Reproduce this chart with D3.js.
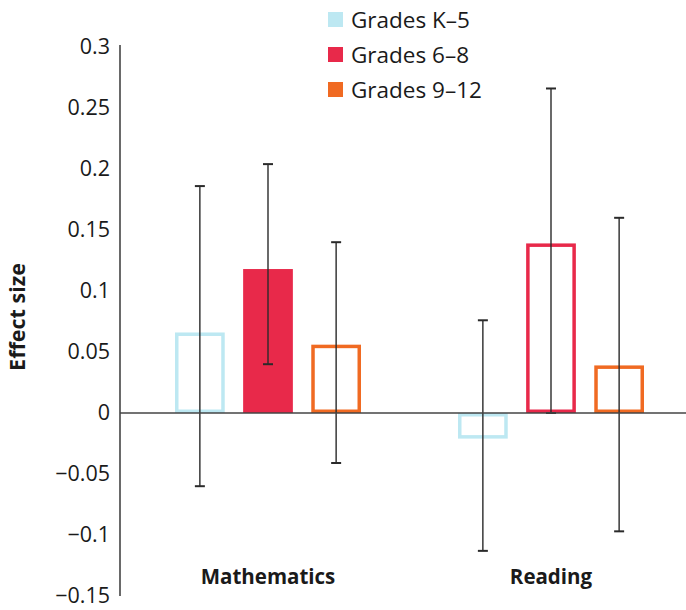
<!DOCTYPE html>
<html>
<head>
<meta charset="utf-8">
<script src="https://cdn.jsdelivr.net/npm/d3@7"></script>
<style>
  html, body { margin: 0; padding: 0; background: #fff; }
  svg { display: block; font-family: "Open Sans", "Noto Sans", sans-serif; }
</style>
</head>
<body>
<svg id="chart" width="686" height="610"></svg>
<script>
// Effect sizes by subject and grade band, with confidence intervals
const subjects = ["Mathematics", "Reading"];
const grades = ["Grades K–5", "Grades 6–8", "Grades 9–12"];
const gradeColors = ["#bde8f2", "#e8294a", "#f06a22"];

const mathEffect = [0.066, 0.118, 0.056];
const mathLow = [-0.060, 0.040, -0.041];
const mathHigh = [0.186, 0.204, 0.140];
const mathFilled = [false, true, false];

const readingEffect = [-0.021, 0.139, 0.039];
const readingLow = [-0.113, 0.000, -0.097];
const readingHigh = [0.076, 0.266, 0.160];
const readingFilled = [false, false, false];

const yTicks = [0.3, 0.25, 0.2, 0.15, 0.1, 0.05, 0, -0.05, -0.1, -0.15];

const seriesBySubject = {
  "Mathematics": { effect: mathEffect, low: mathLow, high: mathHigh, filled: mathFilled },
  "Reading": { effect: readingEffect, low: readingLow, high: readingHigh, filled: readingFilled }
};

const rows = [];
subjects.forEach(s => {
  const d = seriesBySubject[s];
  grades.forEach((g, i) => {
    rows.push({ subject: s, grade: g, i, value: d.effect[i], low: d.low[i], high: d.high[i], filled: d.filled[i] });
  });
});

const svg = d3.select("#chart");
const axisX = 120;

const y = d3.scaleLinear().domain([-0.15, 0.3]).range([596, 47]);
const x0 = d3.scaleBand().domain(subjects).range([126.5, 692.5]).padding(0);
const innerWidth = 186;
const x1 = d3.scaleBand().domain(grades).range([0, innerWidth]).paddingInner(0.27).paddingOuter(0);
const groupOffset = (x0.bandwidth() - innerWidth) / 2;
const color = d3.scaleOrdinal().domain(grades).range(gradeColors);

const fmt = v => v === 0 ? "0" : (v < 0 ? "\u2212" : "") + String(Math.abs(v));

// Y axis
const yAxis = d3.axisLeft(y).tickValues(yTicks).tickSize(0).tickPadding(10).tickFormat(fmt);
const gy = svg.append("g").attr("transform", `translate(${axisX},0)`).call(yAxis);
gy.select(".domain").attr("stroke", "#444").attr("stroke-width", 1.6).attr("d", `M0,${y(0.3) - 2}V${y(-0.15)}`);
gy.selectAll("text").attr("font-size", 21.5).attr("fill", "#1a1a1a").attr("font-family", "\"Open Sans\", sans-serif");

// Axis title
svg.append("text")
  .attr("transform", `translate(25,317) rotate(-90)`)
  .attr("text-anchor", "middle")
  .attr("font-size", 21.5)
  .attr("font-weight", "bold")
  .attr("fill", "#1a1a1a")
  .text("Effect size");

// Bars
const groups = svg.append("g").selectAll("g")
  .data(subjects).join("g")
  .attr("transform", s => `translate(${x0(s) + groupOffset},0)`);

const sw = 3.5;
groups.selectAll("rect")
  .data(s => rows.filter(r => r.subject === s))
  .join("rect")
  .attr("x", d => x1(d.grade) + (d.filled ? 0 : sw / 2))
  .attr("width", d => x1.bandwidth() - (d.filled ? 0 : sw))
  .attr("y", d => Math.min(y(d.value), y(0)) + (d.filled ? 0 : sw / 2))
  .attr("height", d => Math.abs(y(d.value) - y(0)) - (d.filled ? 0 : sw))
  .attr("fill", d => d.filled ? color(d.grade) : "none")
  .attr("stroke", d => d.filled ? "none" : color(d.grade))
  .attr("stroke-width", sw);

// Zero line
svg.append("line")
  .attr("x1", axisX).attr("x2", 686)
  .attr("y1", y(0)).attr("y2", y(0))
  .attr("stroke", "#444").attr("stroke-width", 1.6);

// Error bars
const cap = 5;
const eb = groups.selectAll("g.err")
  .data(s => rows.filter(r => r.subject === s))
  .join("g").attr("class", "err")
  .attr("stroke", "#2a2a2a").attr("stroke-width", 1.4);
eb.append("line")
  .attr("x1", d => x1(d.grade) + x1.bandwidth() / 2)
  .attr("x2", d => x1(d.grade) + x1.bandwidth() / 2)
  .attr("y1", d => y(d.low)).attr("y2", d => y(d.high));
eb.append("line")
  .attr("x1", d => x1(d.grade) + x1.bandwidth() / 2 - cap)
  .attr("x2", d => x1(d.grade) + x1.bandwidth() / 2 + cap)
  .attr("y1", d => y(d.high)).attr("y2", d => y(d.high))
  .attr("stroke-width", 2);
eb.append("line")
  .attr("x1", d => x1(d.grade) + x1.bandwidth() / 2 - cap)
  .attr("x2", d => x1(d.grade) + x1.bandwidth() / 2 + cap)
  .attr("y1", d => y(d.low)).attr("y2", d => y(d.low))
  .attr("stroke-width", 2);

// Category labels
svg.append("g").selectAll("text")
  .data(subjects).join("text")
  .attr("x", s => x0(s) + x0.bandwidth() / 2)
  .attr("y", 584)
  .attr("text-anchor", "middle")
  .attr("font-size", 20.5)
  .attr("font-weight", "bold")
  .attr("fill", "#1a1a1a")
  .text(s => s);

// Legend
const legend = svg.append("g").attr("transform", "translate(328,12)");
const li = legend.selectAll("g").data(grades).join("g")
  .attr("transform", (d, i) => `translate(0,${i * 35})`);
li.append("rect").attr("width", 15).attr("height", 15).attr("fill", d => color(d));
li.append("text").attr("x", 23).attr("y", 15.5).attr("font-size", 22.5).attr("fill", "#1a1a1a").text(d => d);
</script>
</body>
</html>
